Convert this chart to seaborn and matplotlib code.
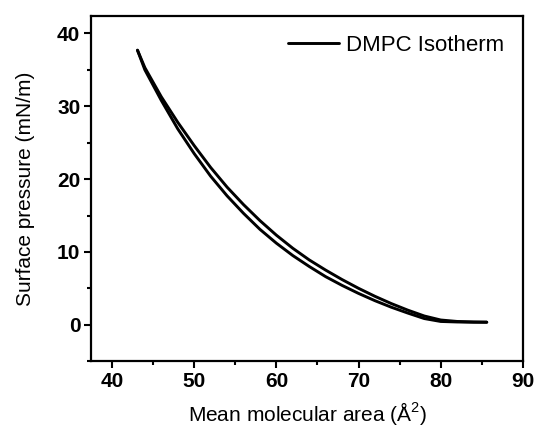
import matplotlib
matplotlib.use("Agg")
import matplotlib.pyplot as plt
import seaborn as sns
import pandas as pd
from matplotlib.ticker import MultipleLocator

# Compression branch (upper curve)
area_comp = [85.6, 84, 82, 80, 78, 76, 74, 72, 70, 68, 66, 64, 62, 60, 58, 56, 54, 52, 50, 48, 46, 44, 43.1]
pressure_comp = [0.35, 0.38, 0.45, 0.65, 1.2, 2.0, 2.9, 3.9, 5.0, 6.2, 7.5, 8.9, 10.5, 12.3, 14.3, 16.5, 18.9, 21.6, 24.6, 27.8, 31.3, 35.3, 37.7]
# Expansion branch (lower curve)
area_exp = [43.1, 44, 46, 48, 50, 52, 54, 56, 58, 60, 62, 64, 66, 68, 70, 72, 74, 76, 78, 80, 82, 84, 85.6]
pressure_exp = [37.7, 35.0, 30.8, 26.9, 23.5, 20.4, 17.7, 15.3, 13.1, 11.2, 9.5, 8.0, 6.6, 5.4, 4.3, 3.3, 2.4, 1.6, 0.85, 0.45, 0.38, 0.35, 0.35]

legend_label = "DMPC Isotherm"
x_label = "Mean molecular area (Å$^2$)"
y_label = "Surface pressure (mN/m)"

sns.set_style("ticks")
plt.rcParams['font.family'] = ['Liberation Sans', 'DejaVu Sans']
plt.rcParams['mathtext.fontset'] = 'custom'
plt.rcParams['mathtext.rm'] = 'Liberation Sans'
for k in ['text.color', 'axes.labelcolor', 'xtick.color', 'ytick.color', 'axes.edgecolor']:
    plt.rcParams[k] = 'black'

fig = plt.figure(figsize=(5.38, 4.32), dpi=100)
ax = fig.add_axes([0.170, 0.164, 0.802, 0.799])

df_c = pd.DataFrame({"area": area_comp, "pressure": pressure_comp})
df_e = pd.DataFrame({"area": area_exp, "pressure": pressure_exp})
sns.lineplot(data=df_c, x="area", y="pressure", sort=False, color="black", lw=2.1, ax=ax, label=legend_label)
sns.lineplot(data=df_e, x="area", y="pressure", sort=False, color="black", lw=2.1, ax=ax, label="_nolegend_")

ax.set_xlim(37.5, 90)
ax.set_ylim(-5, 42.4)
ax.xaxis.set_major_locator(MultipleLocator(10))
ax.xaxis.set_minor_locator(MultipleLocator(5))
ax.yaxis.set_major_locator(MultipleLocator(10))
ax.yaxis.set_minor_locator(MultipleLocator(5))
ax.tick_params(axis='both', which='major', direction='out', length=5, width=1.5, labelsize=15, pad=3)
ax.tick_params(axis='both', which='minor', direction='out', length=3, width=1.5)
for lab in ax.get_xticklabels() + ax.get_yticklabels():
    lab.set_fontweight('bold')
for sp in ax.spines.values():
    sp.set_visible(True)
    sp.set_linewidth(1.6)
    sp.set_color('black')

ax.set_xlabel(x_label, fontsize=15, labelpad=6)
ax.set_ylabel(y_label, fontsize=15, labelpad=16)

leg = ax.legend(loc='upper right', frameon=False, fontsize=16, handlelength=2.3,
                handletextpad=0.3, borderaxespad=0.45)

fig.savefig("out.png", dpi=100)
